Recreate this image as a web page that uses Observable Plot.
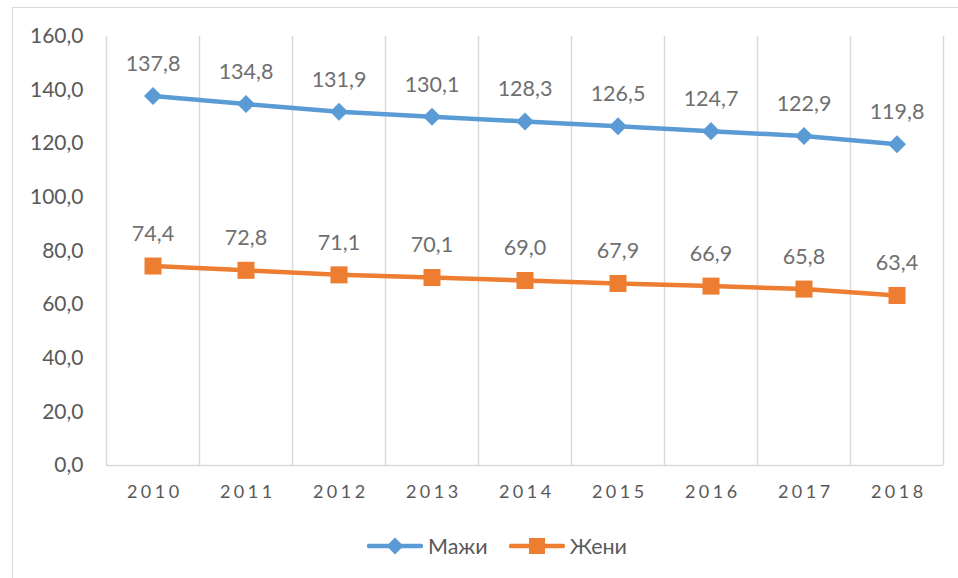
<!DOCTYPE html>
<html>
<head>
<meta charset="utf-8">
<script src="https://cdn.jsdelivr.net/npm/d3@7"></script>
<script src="https://cdn.jsdelivr.net/npm/@observablehq/plot@0.6"></script>
<style>
  html, body { margin: 0; padding: 0; background: #fff; }
  body { width: 958px; height: 578px; position: relative; overflow: hidden; font-family: Lato, "Open Sans", sans-serif; }
  #frame { position: absolute; left: 12px; top: 7px; width: 970px; height: 600px; border: 1.5px solid #d9d9d9; box-sizing: border-box; }
  #chart { position: absolute; left: 0; top: 0; }
  #legend { position: absolute; left: 367px; top: 530px; height: 32px; display: flex; align-items: center; font-size: 21.5px; color: #595959; }
  #legend .item { display: flex; align-items: center; }
  #legend .item span { margin-left: 5px; }
  g[aria-label="x-axis tick label"] text { letter-spacing: 3.5px; }
</style>
</head>
<body>
<div id="frame"></div>
<div id="chart"></div>
<div id="legend"></div>
<script>
const years = [2010, 2011, 2012, 2013, 2014, 2015, 2016, 2017, 2018];
const men = [137.8, 134.8, 131.9, 130.1, 128.3, 126.5, 124.7, 122.9, 119.8];
const women = [74.4, 72.8, 71.1, 70.1, 69.0, 67.9, 66.9, 65.8, 63.4];
const yTicks = [0, 20, 40, 60, 80, 100, 120, 140, 160];
const seriesNames = ["Мажи", "Жени"];
const colors = ["#5B9BD5", "#ED7D31"];

const fmt = d => d3.format(".1f")(d).replace(".", ",");
const menData = years.map((y, i) => ({year: y, value: men[i]}));
const womenData = years.map((y, i) => ({year: y, value: women[i]}));
const bounds = [...years, years[years.length - 1] + 1];

const chart = Plot.plot({
  width: 958,
  height: 520,
  marginLeft: 106,
  marginRight: 15,
  marginTop: 36,
  marginBottom: 55,
  style: {fontFamily: 'Lato, "Open Sans", sans-serif', fontSize: "20px", color: "#595959", background: "transparent"},
  x: {domain: [years[0] - 0.5, years[years.length - 1] + 0.5]},
  y: {domain: [0, 160]},
  marks: [
    Plot.ruleX(bounds, {x: d => d - 0.5, y1: 0, y2: 160, stroke: "#d9d9d9", strokeWidth: 1.5}),
    Plot.ruleY([0], {stroke: "#d9d9d9", strokeWidth: 1.5}),
    Plot.axisY({ticks: yTicks, tickFormat: fmt, tickSize: 0, tickPadding: 23, label: null, fill: "#595959", fontSize: 21}),
    Plot.axisX({ticks: years, tickFormat: d => String(d), tickSize: 0, tickPadding: 20, label: null, fill: "#595959", fontSize: 18, dx: 1.75}),
    Plot.line(menData, {x: "year", y: "value", stroke: colors[0], strokeWidth: 4.5}),
    Plot.line(womenData, {x: "year", y: "value", stroke: colors[1], strokeWidth: 4.5}),
    Plot.dot(menData, {x: "year", y: "value", symbol: "square", rotate: 45, r: 7.2, fill: colors[0], stroke: null}),
    Plot.dot(womenData, {x: "year", y: "value", symbol: "square", r: 9.6, fill: colors[1], stroke: null}),
    Plot.text(menData, {x: "year", y: "value", text: d => fmt(d.value), dy: -32, fill: "#6f6f6f", fontSize: 21.5}),
    Plot.text(womenData, {x: "year", y: "value", text: d => fmt(d.value), dy: -32, fill: "#6f6f6f", fontSize: 21.5})
  ]
});
document.getElementById("chart").appendChild(chart);

// legend (HTML, below the plot area)
const legend = document.getElementById("legend");
seriesNames.forEach((name, i) => {
  const item = document.createElement("div");
  item.className = "item";
  if (i > 0) item.style.marginLeft = "21px";
  const marker = i === 0
    ? `<rect x="22" y="4" width="12" height="12" fill="${colors[i]}" transform="rotate(45 28 10)"/>`
    : `<rect x="20" y="2" width="16" height="16" fill="${colors[i]}"/>`;
  item.innerHTML = `<svg width="56" height="20"><line x1="2" y1="10" x2="54" y2="10" stroke="${colors[i]}" stroke-width="4.5" stroke-linecap="round"/>${marker}</svg><span>${name}</span>`;
  legend.appendChild(item);
});
</script>
</body>
</html>
